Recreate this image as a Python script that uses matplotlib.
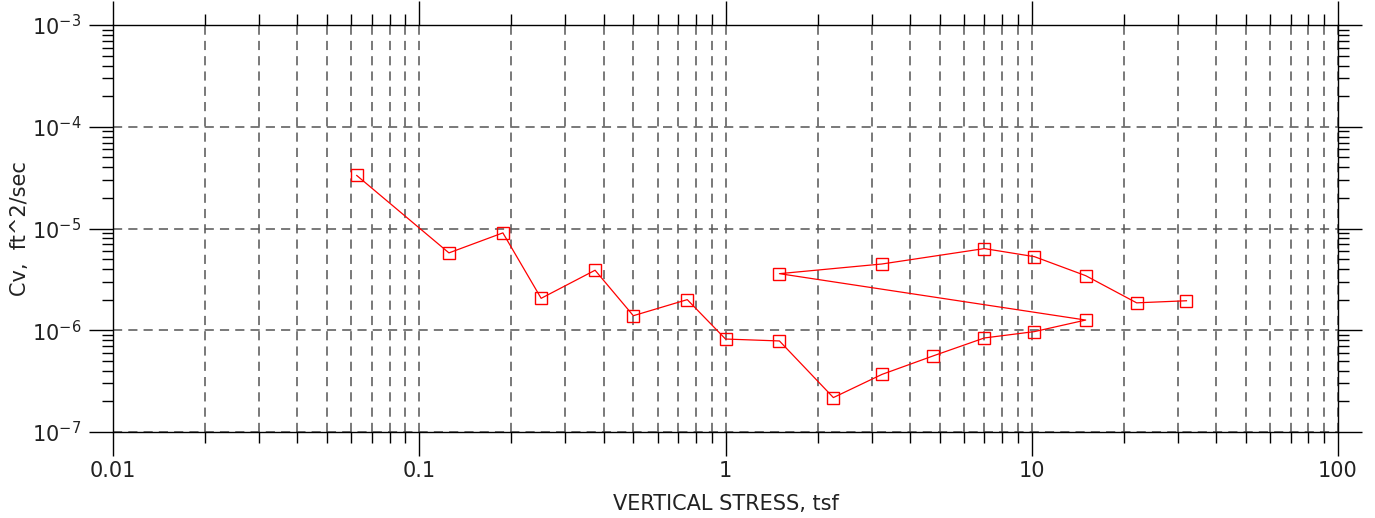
import matplotlib
matplotlib.use('Agg')
import matplotlib.pyplot as plt
from matplotlib.ticker import LogLocator, FixedLocator, FuncFormatter, NullFormatter
import numpy as np

# load sequence (tsf) and coefficient of consolidation (ft^2/sec)
stress = [0.0625, 0.125, 0.1875, 0.25, 0.375, 0.5, 0.75, 1.0, 1.5, 2.25,
          3.24, 4.75, 7.0, 10.2, 15.0,
          1.5, 3.24, 7.0, 10.2, 15.0, 22.0, 32.0]
cv = [3.32e-5, 5.76e-6, 9.06e-6, 2.06e-6, 3.89e-6, 1.39e-6, 2.0e-6, 8.2e-7, 7.85e-7, 2.18e-7,
      3.68e-7, 5.58e-7, 8.4e-7, 9.7e-7, 1.26e-6,
      3.6e-6, 4.48e-6, 6.35e-6, 5.29e-6, 3.44e-6, 1.86e-6, 1.95e-6]

x_ticks = [0.01, 0.1, 1, 10, 100]
x_ticklabels = ['0.01', '0.1', '1', '10', '100']

plt.rcParams['font.family'] = ['DejaVu Sans']

fig = plt.figure(figsize=(13.75, 5.18), dpi=100)
ax = fig.add_axes([0.0822, 0.166, 0.8909, 0.7857])

ax.set_xscale('log')
ax.set_yscale('log')
ax.set_xlim(0.01, 100)
ax.set_ylim(1e-7, 1e-3)

ax.plot(stress, cv, color='red', linewidth=0.9, marker='s', markersize=8,
        markerfacecolor='none', markeredgecolor='red', markeredgewidth=1.0, zorder=3)

# grid: x major+minor, y major only
ax.xaxis.set_minor_locator(LogLocator(base=10, subs=np.arange(2, 10)))
ax.yaxis.set_minor_locator(LogLocator(base=10, subs=np.arange(2, 10)))
ax.grid(True, which='major', axis='both', linestyle=(0, (6, 4)), color='#555555', linewidth=1.1)
ax.grid(True, which='minor', axis='x', linestyle=(0, (6, 4)), color='#555555', linewidth=1.1)

ax.xaxis.set_major_locator(FixedLocator(x_ticks))
ax.xaxis.set_major_formatter(FuncFormatter(lambda v, p: x_ticklabels[x_ticks.index(v)] if v in x_ticks else ''))
ax.xaxis.set_minor_formatter(NullFormatter())
ax.yaxis.set_minor_formatter(NullFormatter())

ax.tick_params(which='major', direction='out', length=17, width=1, color='black',
               labelsize=15, labelcolor='#222222', top=True, right=True)
ax.tick_params(which='minor', direction='out', length=8, width=1, color='black',
               top=True, right=True)
ax.tick_params(axis='x', which='major', pad=4)
ax.tick_params(axis='y', which='major', pad=6)

for s in ax.spines.values():
    s.set_color('black')
    s.set_linewidth(1.0)

ax.set_xlabel('VERTICAL STRESS, tsf', fontsize=15, color='#222222', va='center')
ax.set_ylabel('Cv,  ft^2/sec', fontsize=15, color='#222222')
ax.xaxis.set_label_coords(0.5, -0.177)
ax.yaxis.set_label_coords(-0.068, 0.5)

fig.savefig('out.png', dpi=100)
